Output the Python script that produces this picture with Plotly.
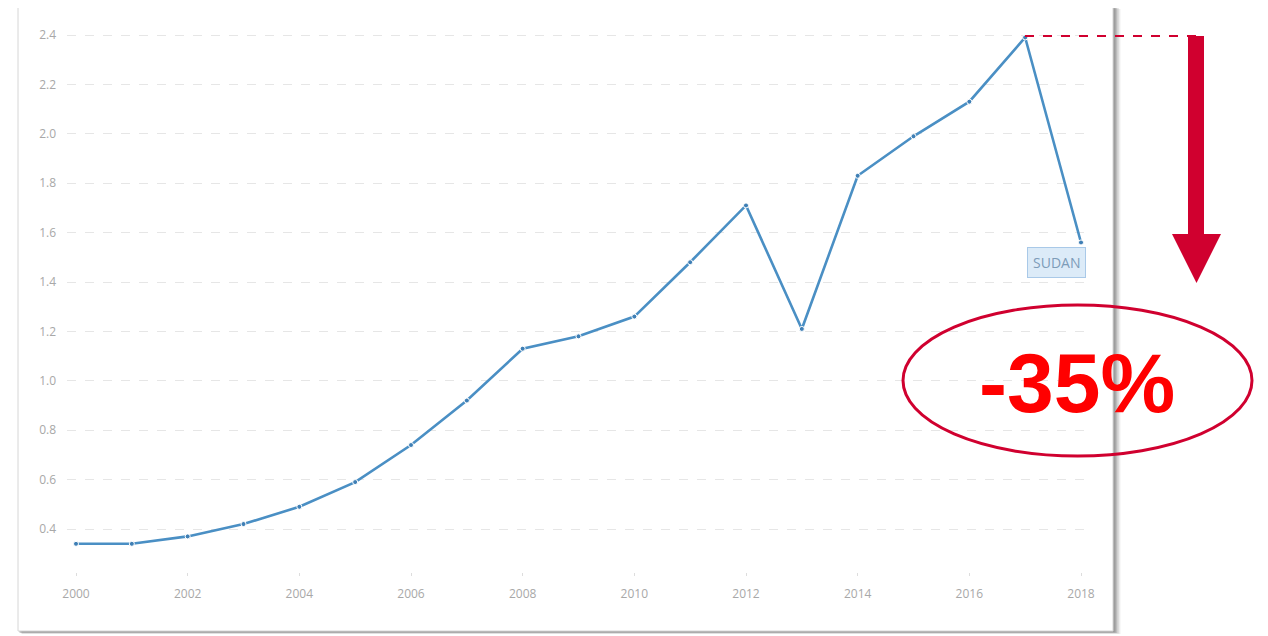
import plotly.graph_objects as go

years = list(range(2000, 2019))
values = [0.34, 0.34, 0.37, 0.42, 0.49, 0.59, 0.74, 0.92, 1.13, 1.18, 1.26,
          1.48, 1.71, 1.21, 1.83, 1.99, 2.13, 2.39, 1.56]
y_ticks = [0.4, 0.6, 0.8, 1.0, 1.2, 1.4, 1.6, 1.8, 2.0, 2.2, 2.4]
x_ticks = list(range(2000, 2019, 2))
series_label = "SUDAN"
change_label = "-35%"

OFF = 8  # default page body margin
W_FIG, H_FIG = 1268 - OFF, 636 - OFF
L, R, T, B = 67, 1093, 15, 572   # plot area in reference pixels
PW, PH = R - L, B - T

def px(x):
    return (x - L) / PW

def py(y):
    return (B - y) / PH

per_year = (1081 - 76) / 18
per_unit = (529 - 35) / 2.0
x_range = [2000 - (76 - L) / per_year, 2018 + (R - 1081) / per_year]
y_range = [2.4 - (B - 35) / per_unit, 2.4 + (35 - T) / per_unit]

RED = "#D0002F"
BLUE = "#4A8FC4"

fig = go.Figure()
fig.add_trace(go.Scatter(
    x=years, y=values, mode="lines+markers",
    line=dict(color=BLUE, width=2.6),
    marker=dict(size=5, color="#3F7FB5", line=dict(color="white", width=1)),
    hoverinfo="x+y", showlegend=False, cliponaxis=False,
))

shapes = []
for i, op in enumerate([0.10, 0.14, 0.20, 0.28]):
    d = 4 - i
    shapes.append(dict(type="rect", xref="paper", yref="paper", layer="below",
                       x0=px(18 + d), x1=px(1114 + d * 1.6), y0=py(632 + d * 0.5), y1=py(5 + d),
                       line=dict(width=0), fillcolor=f"rgba(80,80,80,{op})"))
shapes.append(dict(type="rect", xref="paper", yref="paper", layer="below",
                   x0=px(18), x1=px(1113), y0=py(631), y1=py(5),
                   line=dict(color="#d6d6d6", width=1), fillcolor="white"))
shapes.append(dict(type="line", xref="paper", yref="paper",
                   x0=px(1025), x1=px(1196), y0=py(36), y1=py(36),
                   line=dict(color=RED, width=2, dash="dash")))
shapes.append(dict(type="rect", xref="paper", yref="paper",
                   x0=px(1188), x1=px(1204), y0=py(236), y1=py(36),
                   line=dict(width=0), fillcolor=RED))
shapes.append(dict(type="path", xref="paper", yref="paper",
                   path=f"M {px(1172)} {py(234)} L {px(1221)} {py(234)} L {px(1196.5)} {py(283)} Z",
                   line=dict(width=0), fillcolor=RED))
shapes.append(dict(type="circle", xref="paper", yref="paper",
                   x0=px(903), x1=px(1252), y0=py(456), y1=py(305),
                   line=dict(color=RED, width=3), fillcolor="rgba(255,255,255,0)"))

annotations = [
    dict(x=px(1056.5), y=py(262), xref="paper", yref="paper", text=series_label,
         xanchor="center", yanchor="middle",
         showarrow=False, font=dict(family="Open Sans", size=14, color="#7d9cb8"),
         bgcolor="#dcebf8", bordercolor="#a9c9e8", borderwidth=1, borderpad=5),
    dict(x=px(1077), y=py(383), xref="paper", yref="paper", text=f"<b>{change_label}</b>",
         xanchor="center", yanchor="middle",
         showarrow=False, font=dict(family="Liberation Sans, Arial", size=84, color="#FF0000")),
]

fig.update_layout(
    width=W_FIG, height=H_FIG,
    margin=dict(l=L - OFF, r=1268 - R, t=T - OFF, b=636 - B),
    paper_bgcolor="white", plot_bgcolor="rgba(0,0,0,0)",
    shapes=shapes, annotations=annotations,
    xaxis=dict(range=x_range, tickvals=x_ticks, ticktext=[str(v) for v in x_ticks],
               showgrid=False, zeroline=False, showline=False,
               ticks="outside", ticklen=3, tickcolor="#dddddd", tickwidth=1,
               ticklabelstandoff=8,
               tickfont=dict(family="Open Sans", size=12, color="#a8a8a8")),
    yaxis=dict(range=y_range, tickvals=y_ticks, ticktext=[f"{v:.1f}" for v in y_ticks],
               showgrid=True, gridcolor="#e6e6e6", gridwidth=1, griddash="dash",
               zeroline=False, showline=False, ticks="", ticklabelstandoff=10,
               tickfont=dict(family="Open Sans", size=12, color="#a8a8a8")),
)

fig.write_html("out.html")
